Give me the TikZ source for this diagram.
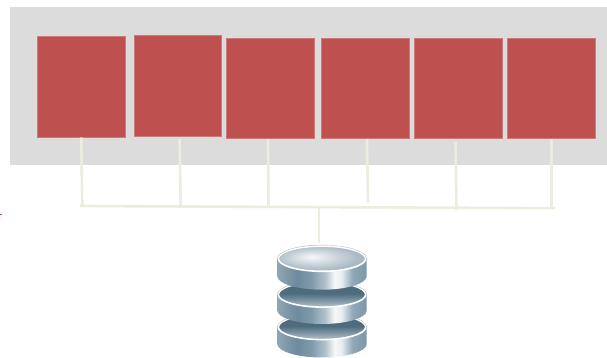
\documentclass[tikz,border=0pt]{standalone}
\definecolor{panelgrey}{HTML}{DCDCDC}
\definecolor{boxred}{HTML}{BE5050}
\definecolor{boxrim}{HTML}{C97A7A}
\definecolor{linkcol}{HTML}{EDECE0}
\definecolor{tickred}{HTML}{F04060}
\definecolor{dsa}{HTML}{8FA6B5}
\definecolor{dsb}{HTML}{6E8A9C}
\definecolor{dsc}{HTML}{7F9AAB}
\definecolor{dsd}{HTML}{B4C4CE}
\definecolor{dse}{HTML}{F6F8F9}
\definecolor{dsf}{HTML}{E6ECEF}
\definecolor{dsg}{HTML}{90A8B7}
\definecolor{dsh}{HTML}{7C97A8}
\definecolor{dda}{HTML}{A8B8C2}
\definecolor{ddb}{HTML}{7F97A6}
\definecolor{ddc}{HTML}{4E6C7E}
\definecolor{dla}{HTML}{D5DEE3}
\definecolor{dlb}{HTML}{A9BAC5}
\pgfdeclarehorizontalshading{dbside}{100bp}{
  color(0bp)=(dsa);
  color(25bp)=(dsa);
  color(36bp)=(dsb);
  color(44bp)=(dsc);
  color(52bp)=(dsd);
  color(57bp)=(dse);
  color(61bp)=(dsf);
  color(67bp)=(dsg);
  color(75bp)=(dsh);
  color(100bp)=(dsh)}
\pgfdeclareverticalshading{dbdark}{100bp}{
  color(0bp)=(dda);
  color(28bp)=(dda);
  color(38bp)=(ddb);
  color(52bp)=(ddc);
  color(100bp)=(ddc)}
\pgfdeclareradialshading{dblight}{\pgfpoint{-6bp}{4bp}}{
  color(0bp)=(dse);
  color(10bp)=(dla);
  color(24bp)=(dlb);
  color(50bp)=(dlb)}
\tikzset{
  panel/.style={fill=panelgrey,draw=none},
  redbox/.style={draw=boxrim,line width=0.6pt,fill=boxred,inner sep=0pt},
  link/.style={draw=linkcol,line width=2.6pt},
  rim/.style={draw=white,line width=1.6pt},
}
% #1 centre y, #2 side height, #3 surface shading
\newcommand{\dbdisk}[3]{%
  \path[shade,shading=dbside] (277.3,#1) -- (277.3,#1-#2) arc (180:360:44.7 and 13.5) -- (366.7,#1) arc (0:180:44.7 and 13.5) -- cycle;
  \path[shade,shading=#3] (322,#1) ellipse (43.7 and 12.6);
  \draw[rim] (322,#1) ellipse (43.7 and 12.6);
  \draw[draw=black!25,line width=0.3pt] (277.6,#1) arc (180:0:44.4 and 13.7);
}
\begin{document}
\begin{tikzpicture}[x=1pt,y=1pt]
\useasboundingbox (0,0) rectangle (607,358);
\fill[white] (0,0) rectangle (607,358);
\node[panel,minimum width=597.5pt,minimum height=158pt,inner sep=0pt] (panel) at (308.25,271.5) {};
\node[redbox,minimum width=88.4pt,minimum height=100.9pt] (b1) at (81.5,271.25) {};
\node[redbox,minimum width=87.4pt,minimum height=100.9pt] (b2) at (177.5,272.25) {};
\node[redbox,minimum width=87.9pt,minimum height=99.9pt] (b3) at (270.25,269.75) {};
\node[redbox,minimum width=87.9pt,minimum height=99.9pt] (b4) at (365.25,269.75) {};
\node[redbox,minimum width=87.9pt,minimum height=99.9pt] (b5) at (458.25,269.75) {};
\node[redbox,minimum width=88.4pt,minimum height=99.9pt] (b6) at (551.5,269.75) {};
% connector ends
\coordinate (t1) at (81.2,220.5);  \coordinate (e1) at (82.3,151.4);
\coordinate (t2) at (179.6,219);   \coordinate (e2) at (180.7,151);
\coordinate (t3) at (268,219);     \coordinate (e3) at (268.5,151);
\coordinate (t4) at (367,219);     \coordinate (e4) at (368,155);
\coordinate (t5) at (455.5,216);   \coordinate (e5) at (456.5,148);
\coordinate (t6) at (551.5,219);   \coordinate (e6) at (551.5,150);
\coordinate (busL) at (80,152);    \coordinate (busR) at (555,149.8);
\coordinate (tap) at (319,151.2);
\coordinate (dbtop) at (319,115);
\draw[link] (t1) -- (e1);
\draw[link] (t2) -- (e2);
\draw[link] (t3) -- (e3);
\draw[link] (t4) -- (e4);
\draw[link] (t5) -- (e5);
\draw[link] (t6) -- (e6);
\draw[link] (busL) -- (busR);
\draw[link] (tap) -- (dbtop);
% database
\begin{scope}
\clip (260,0) rectangle (385,120);
\dbdisk{31}{17}{dbdark}
\dbdisk{63.5}{16}{dbdark}
\dbdisk{99.3}{17.5}{dblight}
\end{scope}
% stray tick at left edge
\fill[tickred] (0,143.7) rectangle (1.7,144.4);
\end{tikzpicture}
\end{document}
